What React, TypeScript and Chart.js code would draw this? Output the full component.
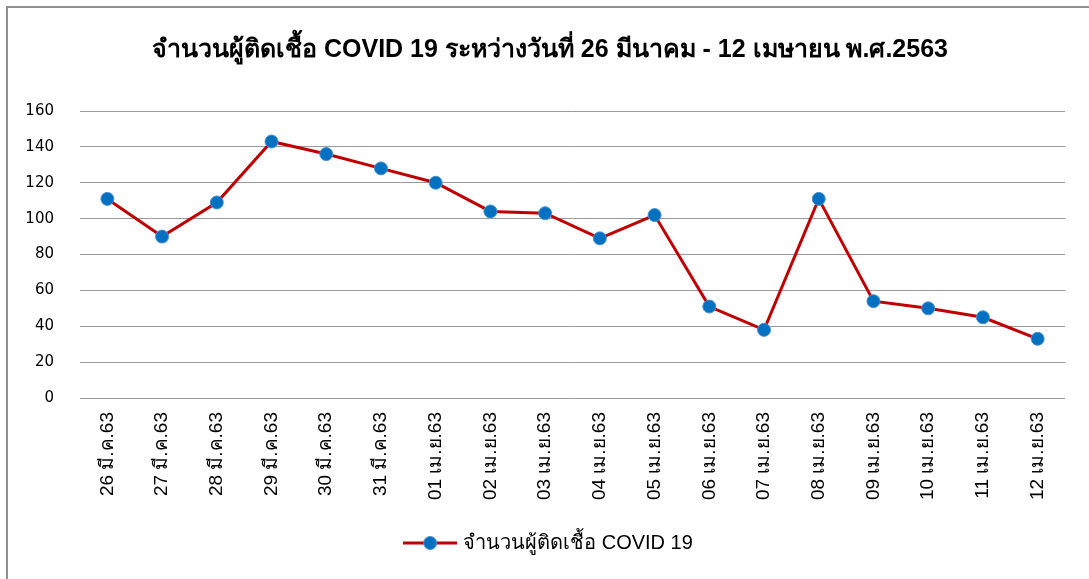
import { useEffect, useRef } from "react";
import { Chart, registerables } from "chart.js";

Chart.register(...registerables);

const categories = [
  "26 มี.ค.63", "27 มี.ค.63", "28 มี.ค.63", "29 มี.ค.63", "30 มี.ค.63", "31 มี.ค.63",
  "01 เม.ย.63", "02 เม.ย.63", "03 เม.ย.63", "04 เม.ย.63", "05 เม.ย.63", "06 เม.ย.63",
  "07 เม.ย.63", "08 เม.ย.63", "09 เม.ย.63", "10 เม.ย.63", "11 เม.ย.63", "12 เม.ย.63",
];
const cases = [111, 90, 109, 143, 136, 128, 120, 104, 103, 89, 102, 51, 38, 111, 54, 50, 45, 33];
const seriesName = "จำนวนผู้ติดเชื้อ COVID 19";
const chartTitle = "จำนวนผู้ติดเชื้อ COVID 19 ระหว่างวันที่ 26 มีนาคม - 12 เมษายน พ.ศ.2563";
const yMin = 0;
const yMax = 160;
const yStep = 20;

const LINE = "#C00000";
const DOT = "#0070C0";

function legendMarker(): HTMLCanvasElement {
  const c = document.createElement("canvas");
  c.width = 54;
  c.height = 16;
  const g = c.getContext("2d")!;
  g.strokeStyle = LINE;
  g.lineWidth = 3;
  g.beginPath();
  g.moveTo(0, 8);
  g.lineTo(54, 8);
  g.stroke();
  g.fillStyle = DOT;
  g.strokeStyle = "#4a90d0";
  g.lineWidth = 1;
  g.beginPath();
  g.arc(27, 8, 6.5, 0, Math.PI * 2);
  g.fill();
  g.stroke();
  return c;
}

export default function App() {
  const ref = useRef<HTMLCanvasElement>(null);
  useEffect(() => {
    if (!ref.current) return;
    const marker = legendMarker();
    const chart = new Chart(ref.current, {
      type: "line",
      data: {
        labels: categories,
        datasets: [
          {
            label: seriesName,
            data: cases,
            borderColor: LINE,
            borderWidth: 3,
            pointBackgroundColor: DOT,
            pointBorderColor: "#4a90d0",
            pointBorderWidth: 1,
            pointRadius: 6.5,
            pointStyle: "circle",
            tension: 0,
          },
        ],
      },
      options: {
        animation: false,
        responsive: false,
        layout: { padding: { left: 20, right: 9, top: 0, bottom: 16 } },
        plugins: {
          tooltip: { enabled: false },
          title: {
            display: true,
            text: chartTitle,
            color: "#000",
            font: { family: "Liberation Sans, sans-serif", size: 25, weight: "bold", lineHeight: 1.2 },
            padding: { top: 35, bottom: 46 },
          },
          legend: {
            position: "bottom",
            labels: {
              usePointStyle: true,
              pointStyleWidth: 46,
              color: "#000",
              font: { family: "Liberation Sans, sans-serif", size: 20 },
              padding: 10,
              generateLabels: () => [
                {
                  text: seriesName,
                  pointStyle: marker as any,
                  fillStyle: DOT,
                  strokeStyle: LINE,
                  lineWidth: 0,
                  hidden: false,
                  datasetIndex: 0,
                } as any,
              ],
            },
          },
        },
        scales: {
          x: {
            offset: true,
            grid: { display: false, drawTicks: false },
            border: { display: false },
            ticks: {
              color: "#000",
              minRotation: 90,
              maxRotation: 90,
              autoSkip: false,
              padding: 14,
              font: { family: "Liberation Sans, sans-serif", size: 19 },
            },
            afterFit: (s: any) => {
              s.height = 125;
            },
          },
          y: {
            min: yMin,
            max: yMax,
            grid: { color: "#9a9a9a", lineWidth: 1, drawTicks: false },
            border: { display: false },
            ticks: {
              stepSize: yStep,
              color: "#000",
              padding: 26,
              font: { family: "DejaVu Sans, sans-serif", size: 15 },
            },
            afterFit: (s: any) => {
              s.width = 60;
            },
          },
          spacer: {
            type: "linear",
            position: "right",
            display: true,
            grid: { display: false, drawTicks: false },
            border: { display: false },
            ticks: { display: false },
            afterFit: (s: any) => {
              s.width = 15;
            },
          },
        },
      },
    });
    return () => chart.destroy();
  }, []);

  return (
    <div style={{ position: "fixed", left: 0, top: 0, width: 1089, height: 579, background: "#fff", overflow: "hidden" }}>
      <div
        style={{
          position: "absolute",
          left: 6,
          top: 6,
          width: 1200,
          height: 700,
          borderLeft: "2px solid #909090",
          borderTop: "2px solid #909090",
        }}
      />
      <canvas ref={ref} width={1089} height={579} style={{ position: "absolute", left: 0, top: 0 }} />
    </div>
  );
}
